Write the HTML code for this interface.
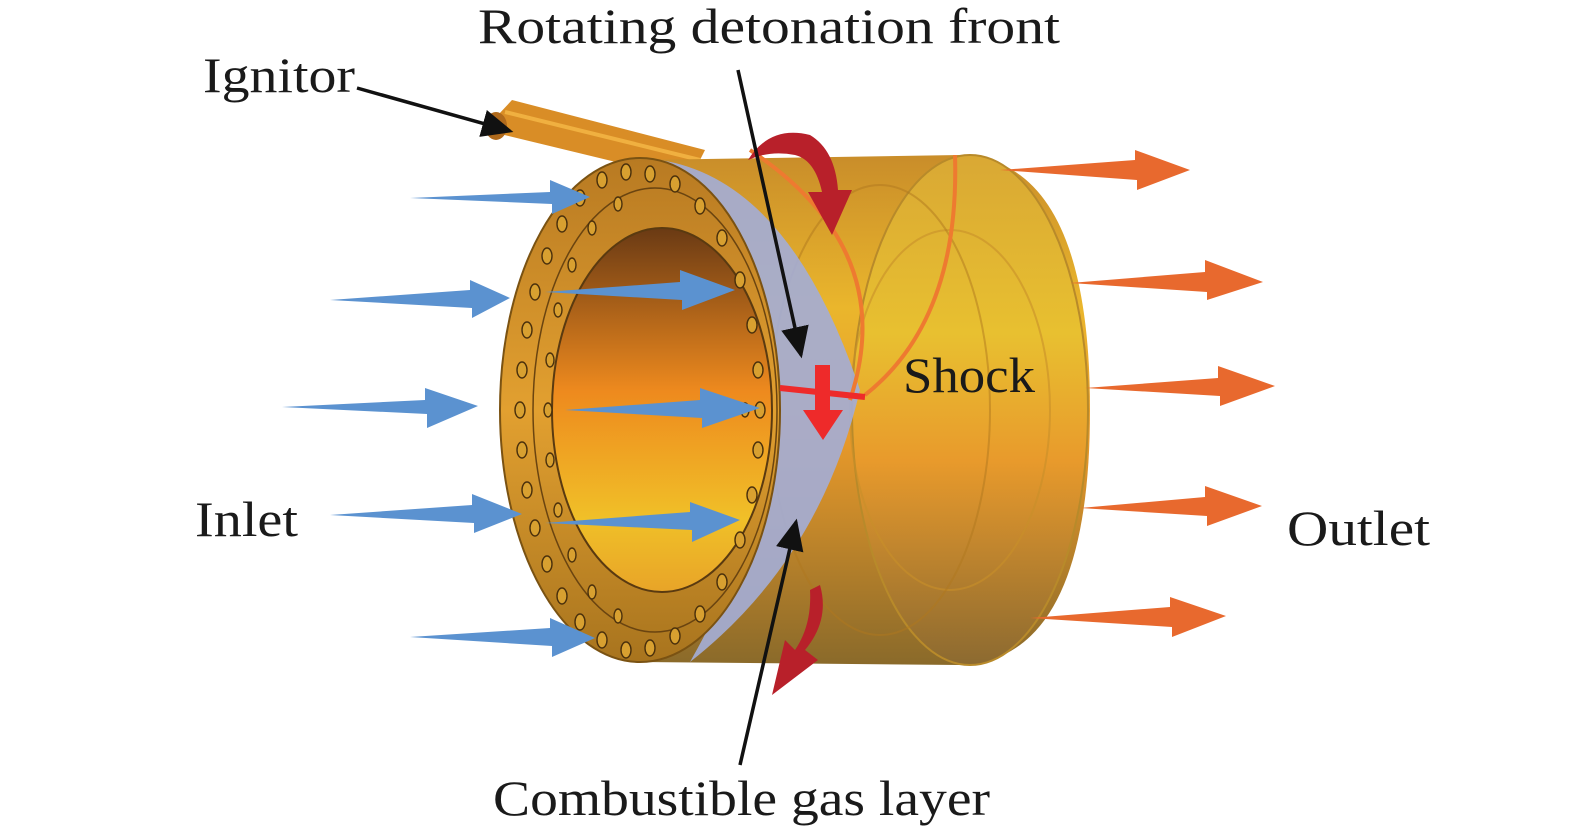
<!DOCTYPE html>
<html><head><meta charset="utf-8"><style>
html,body{margin:0;padding:0;background:#fff;}
svg{display:block}
text{font-family:"Liberation Serif",serif;fill:#1a1a1a}
</style></head><body>
<svg width="1575" height="833" viewBox="0 0 1575 833" xmlns="http://www.w3.org/2000/svg">
<defs>
<linearGradient id="body" x1="0" y1="0" x2="0" y2="1">
<stop offset="0" stop-color="#c98d2a"/><stop offset="0.3" stop-color="#eab62c"/><stop offset="0.55" stop-color="#e99a2a"/><stop offset="1" stop-color="#8a6a2a"/>
</linearGradient>
<linearGradient id="ring" x1="0" y1="0" x2="0" y2="1">
<stop offset="0" stop-color="#b87a22"/><stop offset="0.5" stop-color="#e2a030"/><stop offset="1" stop-color="#a8741e"/>
</linearGradient>
<linearGradient id="hole" x1="0" y1="0" x2="0" y2="1">
<stop offset="0" stop-color="#6a3a14"/><stop offset="0.45" stop-color="#ee8a1e"/><stop offset="0.8" stop-color="#f0c028"/><stop offset="1" stop-color="#e8a428"/>
</linearGradient>
<linearGradient id="back" x1="0" y1="0" x2="0" y2="1">
<stop offset="0" stop-color="#d9a834"/><stop offset="0.35" stop-color="#e8c030"/><stop offset="0.6" stop-color="#e89a2c"/><stop offset="1" stop-color="#8c6a30"/>
</linearGradient>
<marker id="ah" markerWidth="10" markerHeight="10" refX="8" refY="5" orient="auto"><path d="M0,1 L9,5 L0,9 z" fill="#111"/></marker>
</defs>

<!-- ignitor tube -->
<path d="M484,130 L512,100 L705,150 L690,180 Z" fill="#d98d26"/>
<line x1="505" y1="112" x2="700" y2="160" stroke="#f0b040" stroke-width="4"/>
<ellipse cx="496" cy="126" rx="11" ry="14" fill="#b06a1c"/>

<!-- main body -->
<path d="M640,160 L960,155 Q1090,160 1090,410 Q1090,660 960,665 L640,662 Z" fill="url(#body)"/>
<ellipse cx="970" cy="410" rx="118" ry="255" fill="url(#back)" stroke="#b88a2a" stroke-width="2"/>
<ellipse cx="950" cy="410" rx="100" ry="180" fill="none" stroke="#c8902a" stroke-width="2" opacity="0.6"/>
<ellipse cx="880" cy="410" rx="110" ry="225" fill="none" stroke="#b0781e" stroke-width="2" opacity="0.5"/>

<!-- gas layer crescent -->
<path d="M660,160 Q790,180 860,390 Q820,560 690,662 Q770,520 775,410 Q770,240 660,160 Z" fill="#a4acd4" opacity="0.92"/>

<!-- front ring -->
<ellipse cx="640" cy="410" rx="140" ry="252" fill="url(#ring)" stroke="#7a5212" stroke-width="2"/>
<ellipse cx="655" cy="410" rx="122" ry="222" fill="none" stroke="#6a4410" stroke-width="1.5"/>
<ellipse cx="662" cy="410" rx="110" ry="182" fill="url(#hole)" stroke="#5a3a10" stroke-width="2"/>
<g fill="#d8a030" stroke="#4a300c" stroke-width="1.4">
<ellipse cx="520" cy="410" rx="5" ry="8"/><ellipse cx="522" cy="370" rx="5" ry="8"/><ellipse cx="522" cy="450" rx="5" ry="8"/>
<ellipse cx="527" cy="330" rx="5" ry="8"/><ellipse cx="527" cy="490" rx="5" ry="8"/><ellipse cx="535" cy="292" rx="5" ry="8"/>
<ellipse cx="535" cy="528" rx="5" ry="8"/><ellipse cx="547" cy="256" rx="5" ry="8"/><ellipse cx="547" cy="564" rx="5" ry="8"/>
<ellipse cx="562" cy="224" rx="5" ry="8"/><ellipse cx="562" cy="596" rx="5" ry="8"/><ellipse cx="580" cy="198" rx="5" ry="8"/>
<ellipse cx="580" cy="622" rx="5" ry="8"/><ellipse cx="602" cy="180" rx="5" ry="8"/><ellipse cx="602" cy="640" rx="5" ry="8"/>
<ellipse cx="626" cy="172" rx="5" ry="8"/><ellipse cx="626" cy="650" rx="5" ry="8"/><ellipse cx="650" cy="174" rx="5" ry="8"/>
<ellipse cx="650" cy="648" rx="5" ry="8"/><ellipse cx="675" cy="184" rx="5" ry="8"/><ellipse cx="675" cy="636" rx="5" ry="8"/>
<ellipse cx="700" cy="206" rx="5" ry="8"/><ellipse cx="700" cy="614" rx="5" ry="8"/><ellipse cx="722" cy="238" rx="5" ry="8"/>
<ellipse cx="722" cy="582" rx="5" ry="8"/><ellipse cx="740" cy="280" rx="5" ry="8"/><ellipse cx="740" cy="540" rx="5" ry="8"/>
<ellipse cx="752" cy="325" rx="5" ry="8"/><ellipse cx="752" cy="495" rx="5" ry="8"/><ellipse cx="758" cy="370" rx="5" ry="8"/>
<ellipse cx="758" cy="450" rx="5" ry="8"/><ellipse cx="760" cy="410" rx="5" ry="8"/>
<ellipse cx="548" cy="410" rx="4" ry="7"/><ellipse cx="550" cy="360" rx="4" ry="7"/><ellipse cx="550" cy="460" rx="4" ry="7"/>
<ellipse cx="558" cy="310" rx="4" ry="7"/><ellipse cx="558" cy="510" rx="4" ry="7"/><ellipse cx="572" cy="265" rx="4" ry="7"/>
<ellipse cx="572" cy="555" rx="4" ry="7"/><ellipse cx="592" cy="228" rx="4" ry="7"/><ellipse cx="592" cy="592" rx="4" ry="7"/>
<ellipse cx="618" cy="204" rx="4" ry="7"/><ellipse cx="618" cy="616" rx="4" ry="7"/><ellipse cx="745" cy="410" rx="4" ry="7"/>
</g>

<!-- detonation front curves -->
<path d="M750,150 Q900,250 850,400" fill="none" stroke="#ee7a30" stroke-width="4"/>
<path d="M955,155 Q960,320 865,395" fill="none" stroke="#ee7a30" stroke-width="4"/>

<!-- shock marker -->
<line x1="780" y1="388" x2="865" y2="397" stroke="#ee2a2a" stroke-width="6"/>
<path d="M815,365 L830,365 L830,410 L843,410 L823,440 L803,410 L815,410 Z" fill="#ee2a2a"/>

<!-- red rotating arrows -->
<path d="M748,160 Q770,125 810,135 Q835,150 838,190 L852,190 L832,235 L808,192 L822,192 Q815,160 795,155 Q770,150 748,160 Z" fill="#b8202a"/>
<path d="M820,585 Q830,620 805,650 L818,660 L772,695 L785,640 L795,650 Q812,625 810,590 Z" fill="#b8202a"/>

<!-- blue arrows -->
<g fill="#5b92d0">
<path d="M410,198 L550,192 L550,180 L590,197 L552,214 L552,204 Z"/>
<path d="M330,300 L470,290 L470,280 L510,298 L472,318 L472,308 Z"/>
<path d="M282,407 L425,400 L425,388 L478,406 L427,428 L427,414 Z"/>
<path d="M330,515 L472,505 L472,494 L522,514 L474,533 L474,523 Z"/>
<path d="M410,637 L550,628 L550,618 L595,638 L552,657 L552,646 Z"/>
<path d="M545,292 L680,282 L680,270 L735,290 L682,310 L682,300 Z"/>
<path d="M565,410 L700,400 L700,388 L760,408 L702,428 L702,418 Z"/>
<path d="M545,523 L690,512 L690,502 L740,520 L692,542 L692,530 Z"/>
</g>

<!-- orange arrows -->
<g fill="#e8692e">
<path d="M1000,170 L1135,160 L1135,150 L1190,170 L1137,190 L1137,180 Z"/>
<path d="M1070,283 L1205,272 L1205,260 L1263,282 L1207,300 L1207,292 Z"/>
<path d="M1085,388 L1218,378 L1218,366 L1275,386 L1220,406 L1220,396 Z"/>
<path d="M1080,508 L1205,497 L1205,486 L1262,506 L1207,526 L1207,516 Z"/>
<path d="M1030,618 L1170,607 L1170,597 L1226,616 L1172,637 L1172,627 Z"/>
</g>

<!-- black pointer lines -->
<line x1="357" y1="88" x2="510" y2="131" stroke="#111" stroke-width="3.5" marker-end="url(#ah)"/>
<line x1="738" y1="70" x2="801" y2="355" stroke="#111" stroke-width="3.5" marker-end="url(#ah)"/>
<line x1="740" y1="765" x2="796" y2="522" stroke="#111" stroke-width="3.5" marker-end="url(#ah)"/>

<!-- labels -->
<text x="478" y="43" font-size="50" textLength="582" lengthAdjust="spacingAndGlyphs">Rotating detonation front</text>
<text x="203" y="92" font-size="50" textLength="152" lengthAdjust="spacingAndGlyphs">Ignitor</text>
<text x="903" y="392" font-size="50" textLength="132" lengthAdjust="spacingAndGlyphs">Shock</text>
<text x="195" y="536" font-size="50" textLength="103" lengthAdjust="spacingAndGlyphs">Inlet</text>
<text x="1287" y="545" font-size="50" textLength="143" lengthAdjust="spacingAndGlyphs">Outlet</text>
<text x="493" y="815" font-size="50" textLength="497" lengthAdjust="spacingAndGlyphs">Combustible gas layer</text>
</svg>
</body></html>
